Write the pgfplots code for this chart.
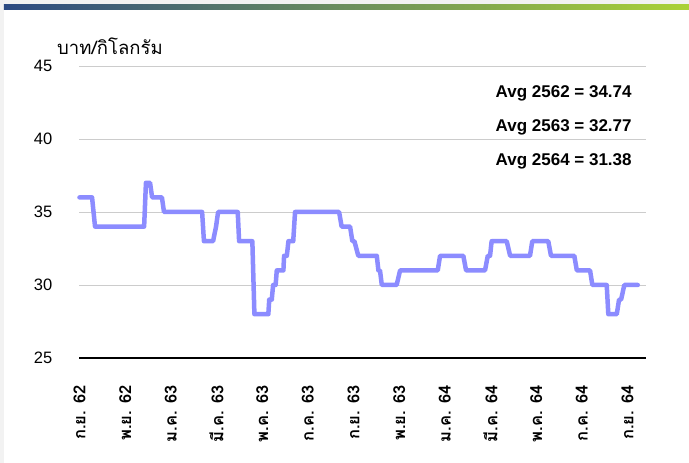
\documentclass[border=0pt]{standalone}
\usepackage{pgfplots}
\pgfplotsset{compat=1.18}
\usepackage{fontspec}
\setmainfont{Liberation Sans}
\newfontfamily\thai[Script=Thai]{Loma}
\definecolor{gA}{RGB}{44,74,130}
\definecolor{gB}{RGB}{72,182,165}
\definecolor{gC}{RGB}{170,210,55}
\definecolor{lineC}{RGB}{140,140,255}
\begin{document}
\begin{tikzpicture}[x=1pt,y=1pt]
\fill[black!5] (-79.5,-105) rectangle (609.5,358);
\fill[white] (-75.5,-105) rectangle (609.5,348);
\shade[left color=gA, middle color=gB, right color=gC] (-75.5,348) rectangle (609.5,353);
\useasboundingbox (-79.5,-105) rectangle (609.5,358);
\node[anchor=west, inner sep=0pt, font=\thai\fontsize{18.5}{18.5}\selectfont] at (-22.5,312) {บาท/กิโลกรัม};
\begin{axis}[at={(0,0)}, anchor=south west, scale only axis,
  width=566.5pt, height=292pt,
  xmin=0, xmax=24.81, ymin=25, ymax=45,
  axis x line*=bottom, axis y line*=left,
  y axis line style={draw=none},
  x axis line style={black, line width=2.5pt, -},
  ytick={25,30,35,40,45},
  ymajorgrids, grid style={black!20, line width=0.9pt},
  ytick style={draw=none}, xtick style={draw=none},
  xtick={0,2,...,24},
  xticklabels={ก.ย. 62,พ.ย. 62,ม.ค. 63,มี.ค. 63,พ.ค. 63,ก.ค. 63,ก.ย. 63,พ.ย. 63,ม.ค. 64,มี.ค. 64,พ.ค. 64,ก.ค. 64,ก.ย. 64},
  xticklabel style={font=\thai\bfseries\fontsize{16.5}{16.5}\selectfont, rotate=90, anchor=east, inner sep=0pt},
  xticklabel shift=27pt,
  yticklabel style={font=\fontsize{16.5}{16.5}\selectfont, anchor=east, inner sep=0pt},
  yticklabel shift=27pt,
  /pgf/number format/assume math mode=true,
  clip=false,
]
\addplot[lineC, line width=4.5pt, line join=round, line cap=round] coordinates {
(0,36) (0.55,36) (0.68,34) (2.83,34) (2.91,37) (3.09,37) (3.18,36) (3.61,36) (3.70,35)
(5.37,35) (5.45,33) (5.85,33) (5.98,34) (6.07,35) (6.93,35) (6.99,33) (7.57,33) (7.66,28)
(8.27,28) (8.31,29) (8.42,29) (8.48,30) (8.59,30) (8.64,31) (8.93,31) (8.96,32) (9.08,32)
(9.15,33) (9.36,33) (9.44,35) (11.37,35) (11.48,34) (11.85,34) (11.95,33) (12.04,33)
(12.21,32) (13.02,32) (13.09,31) (13.16,31) (13.24,30) (13.89,30) (14.04,31) (15.69,31)
(15.79,32) (16.81,32) (16.93,31) (17.76,31) (17.88,32) (17.98,32) (18.05,33) (18.71,33)
(18.86,32) (19.73,32) (19.83,33) (20.53,33) (20.65,32) (21.67,32) (21.78,31) (22.36,31)
(22.46,30) (23.09,30) (23.16,28) (23.53,28) (23.63,29) (23.72,29) (23.86,30) (24.45,30)
};
\node[anchor=base east, inner sep=0pt, font=\bfseries\fontsize{17}{17}\selectfont] at (axis cs:24.19,42.84) {Avg 2562 = 34.74};
\node[anchor=base east, inner sep=0pt, font=\bfseries\fontsize{17}{17}\selectfont] at (axis cs:24.19,40.51) {Avg 2563 = 32.77};
\node[anchor=base east, inner sep=0pt, font=\bfseries\fontsize{17}{17}\selectfont] at (axis cs:24.19,38.18) {Avg 2564 = 31.38};
\end{axis}
\end{tikzpicture}
\end{document}
